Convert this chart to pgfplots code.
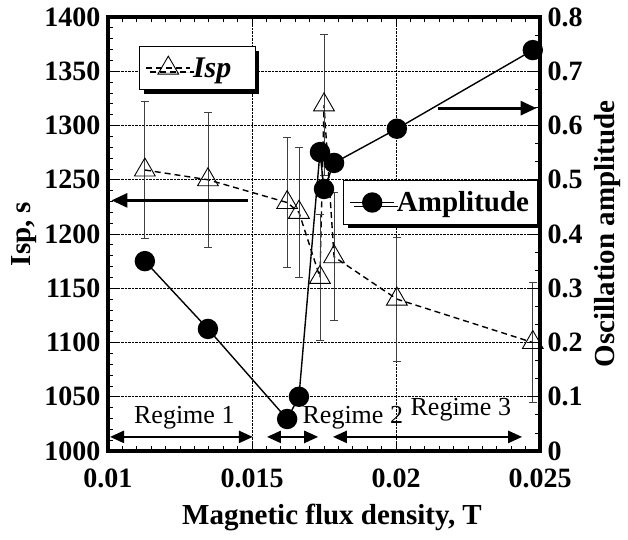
\documentclass[border=0pt]{standalone}
\usepackage{fontspec}
\setmainfont{Liberation Serif}
\usepackage{pgfplots}
\pgfplotsset{compat=1.18}
\usetikzlibrary{arrows.meta,shadows}

% keep the legend box shadow off the legend sample lines
\makeatletter
\newcommand\noshadow{\let\tikz@preactions\pgfutil@empty}
\makeatother

\pgfplotstableread{
x       y     e
0.01128 1259  63
0.01347 1250  62
0.01622 1229  60
0.01663 1220  60
0.01736 1160  58
0.01750 1319  65
0.01785 1179  59
0.02003 1140  57
0.02475 1100  55
}\isp

\pgfplotstableread{
x       y
0.01128 0.350
0.01347 0.225
0.01622 0.059
0.01663 0.100
0.01736 0.551
0.01750 0.483
0.01785 0.531
0.02003 0.594
0.02475 0.739
}\amp

\begin{document}
\begin{tikzpicture}
\path[use as bounding box] (-108pt,-88pt) rectangle (520pt,451pt);
\pgfplotsset{
  common/.style={
    scale only axis, width=432pt, height=434pt,
    at={(0pt,0pt)}, anchor=south west,
    xmin=0.01, xmax=0.025, clip=false,
    axis line style={line width=4.5pt},
    tick style={line width=0.8pt, black},
    major tick length=10pt, minor tick length=5pt,
    tick align=inside,
    ticklabel style={font=\fontsize{28}{28}\selectfont\bfseries},
    /pgf/number format/assume math mode=true,
    /pgf/number format/1000 sep={},
    label style={font=\fontsize{29}{29}\selectfont\bfseries},
    legend image code/.code={\noshadow\draw[mark repeat=2,mark phase=2,##1]
      plot coordinates {(0pt,0pt) (22pt,0pt) (44pt,0pt)};},
  },
  boxlegend/.style={draw=black, line width=1pt, fill=white,
    inner xsep=6pt, inner ysep=9pt,
    drop shadow={shadow xshift=4pt, shadow yshift=-4pt, fill=black, opacity=1}},
}

% left axis: Isp
\begin{axis}[common,
  ymin=1000, ymax=1400,
  scaled x ticks=false,
  xtick={0.01,0.015,0.02,0.025},
  xticklabels={0.01,0.015,0.02,0.025},
  minor x tick num=9,
  ytick={1000,1050,...,1400},
  minor y tick num=4,
  ytick pos=left,
  grid=major, grid style={densely dotted, line width=0.7pt, black},
  xlabel={Magnetic flux density, T},
  ylabel={Isp, s},
  xlabel style={at={(rel axis cs:0.5,0)}, anchor=center, yshift=-66pt, xshift=8pt},
  ylabel style={at={(rel axis cs:0,0.5)}, anchor=center, yshift=84pt},
  xticklabel style={yshift=-14pt},
  yticklabel style={xshift=-4pt},
  legend style={boxlegend, at={(rel axis cs:0.072,0.933)}, anchor=north west,
    font=\fontsize{30}{30}\selectfont\bfseries\itshape},
]
\addplot[black, line width=1.4pt, dash pattern=on 6pt off 4pt,
  mark=triangle, mark size=12pt,
  mark options={solid, fill=white, line width=0.9pt},
  error bars/.cd, y dir=both, y explicit,
  error bar style={solid, line width=0.8pt, black!75},
  error mark options={rotate=90, mark size=4pt, line width=0.8pt, black!75}]
  table[x=x, y=y, y error=e] {\isp};
\addlegendentry{Isp\hspace*{16pt}}

% arrow to the left axis
\draw[line width=3pt, -{Triangle[length=16pt,width=14pt]}]
  (axis cs:0.01486,1231) -- (axis cs:0.01012,1231);

% regime arrows
\draw[line width=2.4pt, {Triangle[length=14pt,width=12pt]}-{Triangle[length=14pt,width=12pt]}]
  (axis cs:0.01007,1013) -- (axis cs:0.01503,1013);
\draw[line width=2.4pt, {Triangle[length=14pt,width=12pt]}-{Triangle[length=14pt,width=12pt]}]
  (axis cs:0.01552,1013) -- (axis cs:0.01730,1013);
\draw[line width=2.4pt, {Triangle[length=14pt,width=12pt]}-{Triangle[length=14pt,width=12pt]}]
  (axis cs:0.01781,1013) -- (axis cs:0.02438,1013);
\node[font=\fontsize{26}{26}\selectfont] at (axis cs:0.01265,1031) {Regime 1};
\node[font=\fontsize{26}{26}\selectfont] at (axis cs:0.01850,1031) {Regime 2};
\node[font=\fontsize{26}{26}\selectfont] at (axis cs:0.02225,1038) {Regime 3};
\end{axis}

% right axis: amplitude
\begin{axis}[common,
  ymin=0, ymax=0.8,
  axis x line=none,
  ytick={0,0.1,...,0.8},
  yticklabels={0,0.1,0.2,0.3,0.4,0.5,0.6,0.7,0.8},
  minor y tick num=2,
  ytick pos=right,
  axis y line*=right,
  ylabel={Oscillation amplitude},
  ylabel style={at={(rel axis cs:1,0.5)}, anchor=center, yshift=-68pt},
  yticklabel style={xshift=4pt},
  legend style={boxlegend, at={(rel axis cs:0.544,0.624)}, anchor=north west,
    font=\fontsize{29}{29}\selectfont\bfseries},
]
\addplot[black, line width=1.4pt, mark=*, mark size=9.5pt]
  table[x=x, y=y] {\amp};
\addlegendentry{Amplitude}

% arrow to the right axis
\draw[line width=3pt, -{Triangle[length=16pt,width=14pt]}]
  (axis cs:0.02146,0.632) -- (axis cs:0.02488,0.632);
\end{axis}
\end{tikzpicture}
\end{document}
